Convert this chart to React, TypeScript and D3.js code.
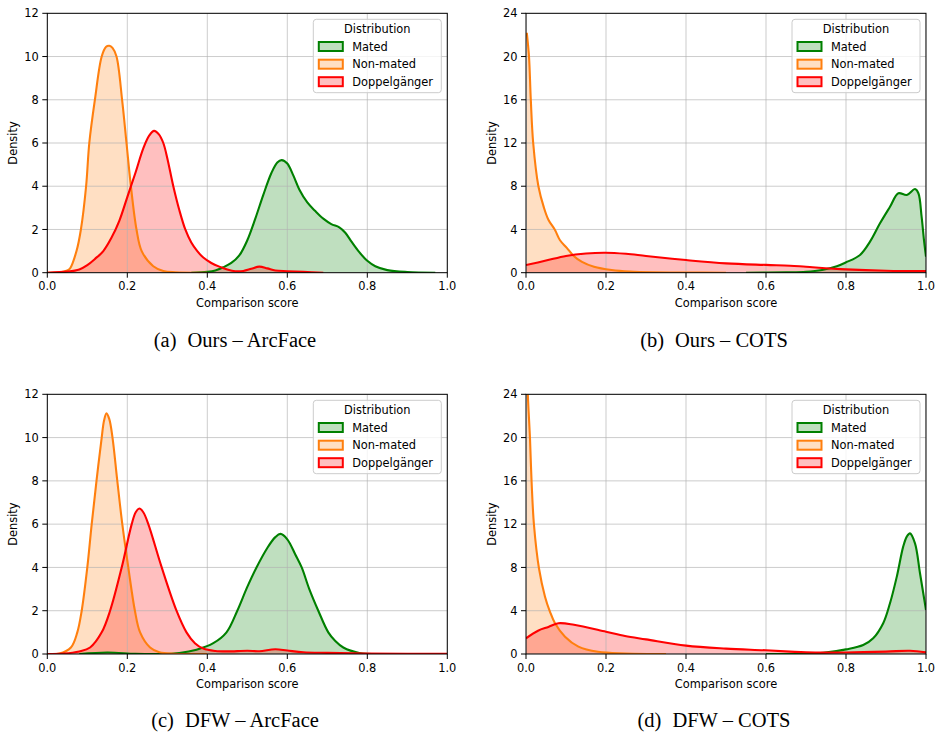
import React from "react";
import * as d3 from "d3";

type Pt = [number, number];

const categories = ["Mated", "Non-mated", "Doppelgänger"];
const colors = ["#008000", "#ff7f0e", "#ff0000"];
const xTicks = [0, 0.2, 0.4, 0.6, 0.8, 1.0];
const yTicksArc = [0, 2, 4, 6, 8, 10, 12];
const yTicksCots = [0, 4, 8, 12, 16, 20, 24];
const captions = ["(a)", "(b)", "(c)", "(d)"];
const captionTexts = ["Ours – ArcFace", "Ours – COTS", "DFW – ArcFace", "DFW – COTS"];

// (a) Ours – ArcFace
const aMated: Pt[] = [[0.36,0],[0.40,0.04],[0.42,0.1],[0.44,0.25],[0.46,0.45],[0.48,0.8],[0.50,1.5],[0.52,2.5],[0.54,3.6],[0.56,4.6],[0.575,5.1],[0.586,5.21],[0.60,5.05],[0.615,4.5],[0.63,3.85],[0.65,3.25],[0.67,2.85],[0.69,2.5],[0.71,2.25],[0.73,2.1],[0.745,1.85],[0.76,1.45],[0.78,0.95],[0.80,0.55],[0.82,0.3],[0.85,0.12],[0.90,0.03],[0.97,0]];
const aNonMated: Pt[] = [[0,0],[0.03,0.01],[0.05,0.1],[0.057,0.2],[0.073,1.0],[0.084,2.0],[0.097,4.0],[0.105,6.0],[0.119,8.0],[0.136,10.0],[0.147,10.45],[0.155,10.5],[0.163,10.4],[0.173,10.0],[0.187,8.0],[0.198,6.0],[0.209,4.0],[0.223,2.0],[0.236,1.0],[0.265,0.3],[0.29,0.08],[0.32,0.02],[0.4,0]];
const aDoppel: Pt[] = [[0,0],[0.05,0.05],[0.08,0.15],[0.10,0.35],[0.12,0.65],[0.14,1.0],[0.16,1.6],[0.18,2.4],[0.20,3.5],[0.22,4.6],[0.24,5.75],[0.255,6.35],[0.267,6.56],[0.279,6.4],[0.29,6.0],[0.30,5.3],[0.315,4.0],[0.33,2.9],[0.345,2.0],[0.36,1.4],[0.375,1.0],[0.39,0.7],[0.41,0.45],[0.43,0.28],[0.45,0.15],[0.47,0.07],[0.49,0.08],[0.51,0.18],[0.53,0.28],[0.55,0.2],[0.57,0.1],[0.6,0.07],[0.64,0.04],[0.69,0]];

// (b) Ours – COTS
const bMated: Pt[] = [[0.55,0],[0.65,0.03],[0.70,0.08],[0.74,0.25],[0.777,0.6],[0.80,0.96],[0.835,1.64],[0.86,2.87],[0.885,4.57],[0.91,6.1],[0.931,7.35],[0.952,7.19],[0.9725,7.74],[0.981,7.35],[0.989,5.18],[0.995,3.0],[1.0,1.48]];
const bNonMated: Pt[] = [[0.002,22.2],[0.0075,20.0],[0.012,16.0],[0.018,12.0],[0.031,8.0],[0.045,6.0],[0.056,4.9],[0.0725,3.95],[0.085,3.0],[0.102,2.3],[0.118,1.6],[0.14,1.0],[0.17,0.55],[0.214,0.25],[0.26,0.1],[0.32,0.03],[0.4,0.01],[0.5,0]];
const bDoppel: Pt[] = [[0,0.71],[0.05,1.12],[0.1,1.55],[0.15,1.78],[0.198,1.85],[0.25,1.75],[0.3,1.55],[0.4,1.17],[0.5,0.86],[0.6,0.72],[0.66,0.65],[0.7,0.55],[0.8,0.31],[0.9,0.18],[1.0,0.15]];

// (c) DFW – ArcFace
const cMated: Pt[] = [[0.08,0],[0.15,0.07],[0.22,0.01],[0.28,0],[0.33,0.05],[0.373,0.2],[0.415,0.5],[0.448,1.0],[0.475,2.0],[0.50,3.1],[0.523,4.0],[0.55,4.9],[0.57,5.4],[0.583,5.55],[0.60,5.3],[0.62,4.6],[0.636,4.0],[0.655,3.0],[0.6775,2.0],[0.7025,1.0],[0.72,0.6],[0.74,0.3],[0.78,0.05],[0.83,0]];
const cNonMated: Pt[] = [[0,0],[0.03,0.02],[0.059,0.3],[0.075,1.0],[0.086,2.0],[0.1,4.0],[0.111,6.0],[0.123,8.0],[0.136,10.0],[0.142,10.8],[0.148,11.12],[0.155,10.85],[0.163,10.0],[0.175,8.0],[0.1875,6.0],[0.2025,4.0],[0.219,2.0],[0.232,1.0],[0.257,0.3],[0.28,0.08],[0.32,0.01],[0.4,0]];
const cDoppel: Pt[] = [[0,0],[0.04,0.02],[0.08,0.12],[0.107,0.3],[0.136,1.0],[0.157,2.0],[0.186,4.0],[0.211,6.0],[0.221,6.55],[0.23,6.72],[0.24,6.55],[0.2525,6.0],[0.286,4.0],[0.323,2.0],[0.348,1.0],[0.369,0.5],[0.39,0.25],[0.42,0.14],[0.45,0.12],[0.5,0.15],[0.53,0.13],[0.57,0.22],[0.6,0.16],[0.64,0.08],[0.7,0.05],[0.8,0.02],[0.9,0.01],[1.0,0.01]];

// (d) DFW – COTS
const dMated: Pt[] = [[0.6,0],[0.7,0.03],[0.743,0.1],[0.8,0.43],[0.843,0.83],[0.868,1.45],[0.893,2.84],[0.91,4.69],[0.927,7.15],[0.943,9.92],[0.952,10.85],[0.96,11.15],[0.9725,10.23],[0.985,7.46],[1.0,4.07]];
const dNonMated: Pt[] = [[0.001,30],[0.004,24.5],[0.01,19.9],[0.014,15.9],[0.02,11.9],[0.0325,7.9],[0.0475,5.3],[0.06,3.9],[0.0725,2.84],[0.0975,1.6],[0.131,0.68],[0.18,0.2],[0.25,0.05],[0.35,0]];
const dDoppel: Pt[] = [[0,1.45],[0.03,2.15],[0.056,2.5],[0.081,2.84],[0.12,2.7],[0.2,2.06],[0.2475,1.66],[0.3,1.35],[0.4,0.77],[0.5,0.5],[0.6,0.34],[0.66,0.22],[0.7,0.15],[0.8,0.14],[0.9,0.22],[0.96,0.3],[1.0,0.15]];

const FONT = "DejaVu Sans, sans-serif";
const FS = 11.4;

interface PanelProps {
  id: string;
  left: number; right: number; top: number; bottom: number;
  yMax: number; yTicks: number[];
  series: Pt[][];
}

function Panel({ id, left, right, top, bottom, yMax, yTicks, series }: PanelProps) {
  const x = d3.scaleLinear().domain([0, 1]).range([left, right]);
  const y = d3.scaleLinear().domain([0, yMax]).range([bottom, top]);
  const curve = d3.curveCatmullRom.alpha(0.5);
  const area = d3.area<Pt>().x(d => x(d[0])).y0(y(0)).y1(d => y(d[1])).curve(curve);
  const line = d3.line<Pt>().x(d => x(d[0])).y(d => y(d[1])).curve(curve);
  const midY = (top + bottom) / 2;
  const lgW = 128, lgH = 73.4;
  const lgX = right - 6 - lgW, lgY = top + 6;
  const rowY = [27.2, 44.9, 62.4];
  return (
    <g>
      <defs>
        <clipPath id={id}>
          <rect x={left} y={top} width={right - left} height={bottom - top} />
        </clipPath>
      </defs>
      <g clipPath={`url(#${id})`}>
        {series.map((s, i) => (
          <path key={"f" + i} d={area(s) || ""} fill={colors[i]} fillOpacity={0.25} stroke="none" />
        ))}
        {xTicks.map(t => (
          <line key={"gx" + t} x1={x(t)} x2={x(t)} y1={top} y2={bottom} stroke="#b0b0b0" strokeOpacity={0.65} strokeWidth={1} />
        ))}
        {yTicks.map(t => (
          <line key={"gy" + t} x1={left} x2={right} y1={y(t)} y2={y(t)} stroke="#b0b0b0" strokeOpacity={0.65} strokeWidth={1} />
        ))}
        {series.map((s, i) => (
          <path key={"l" + i} d={line(s) || ""} fill="none" stroke={colors[i]} strokeWidth={2.1} strokeLinejoin="round" />
        ))}
      </g>
      <rect x={left} y={top} width={right - left} height={bottom - top} fill="none" stroke="#000" strokeWidth={1} />
      {xTicks.map(t => (
        <g key={"tx" + t}>
          <line x1={x(t)} x2={x(t)} y1={bottom} y2={bottom + 5} stroke="#000" strokeWidth={1} />
          <text x={x(t)} y={bottom + 17.5} textAnchor="middle" fontFamily={FONT} fontSize={FS} fill="#000">{t.toFixed(1)}</text>
        </g>
      ))}
      {yTicks.map(t => (
        <g key={"ty" + t}>
          <line x1={left - 5} x2={left} y1={y(t)} y2={y(t)} stroke="#000" strokeWidth={1} />
          <text x={left - 8.5} y={y(t)} dy="0.36em" textAnchor="end" fontFamily={FONT} fontSize={FS} fill="#000">{t}</text>
        </g>
      ))}
      <text x={left - 34.5} y={midY} transform={`rotate(-90 ${left - 34.5} ${midY})`} dy="0.36em" textAnchor="middle" fontFamily={FONT} fontSize={FS} fill="#000">Density</text>
      <text x={(left + right) / 2} y={bottom + 34} textAnchor="middle" fontFamily={FONT} fontSize={FS} fill="#000">Comparison score</text>
      <g>
        <rect x={lgX} y={lgY} width={lgW} height={lgH} rx={3} fill="#fff" fillOpacity={0.8} stroke="#cccccc" strokeWidth={1} />
        <text x={lgX + lgW / 2} y={lgY + 9.8} dy="0.36em" textAnchor="middle" fontFamily={FONT} fontSize={FS} fill="#000">Distribution</text>
        {categories.map((c, i) => (
          <g key={c}>
            <rect x={lgX + 5.5} y={lgY + rowY[i] - 4.5} width={24} height={9} fill={colors[i]} fillOpacity={0.25} stroke={colors[i]} strokeWidth={2} />
            <text x={lgX + 39} y={lgY + rowY[i]} dy="0.36em" fontFamily={FONT} fontSize={FS} fill="#000">{c}</text>
          </g>
        ))}
      </g>
    </g>
  );
}

function Caption({ cx, y, label, text }: { cx: number; y: number; label: string; text: string }) {
  return (
    <text x={cx} y={y} textAnchor="middle" fontFamily="Liberation Serif, Times New Roman, serif" fontSize={20.5} fill="#000">
      <tspan>{label}</tspan>
      <tspan dx={11}>{text}</tspan>
    </text>
  );
}

export default function App() {
  const L1 = 47.3, R1 = 447.3, L2 = 526, R2 = 926;
  const T1 = 13.3, B1 = 272.7, T2 = 394.3, B2 = 654;
  return (
    <svg width={940} height={735} style={{ position: "absolute", left: 0, top: 0, background: "#fff" }}>
      <rect x={0} y={0} width={940} height={735} fill="#fff" />
      <Panel id="pa" left={L1} right={R1} top={T1} bottom={B1} yMax={12} yTicks={yTicksArc} series={[aMated, aNonMated, aDoppel]} />
      <Panel id="pb" left={L2} right={R2} top={T1} bottom={B1} yMax={24} yTicks={yTicksCots} series={[bMated, bNonMated, bDoppel]} />
      <Panel id="pc" left={L1} right={R1} top={T2} bottom={B2} yMax={12} yTicks={yTicksArc} series={[cMated, cNonMated, cDoppel]} />
      <Panel id="pd" left={L2} right={R2} top={T2} bottom={B2} yMax={24} yTicks={yTicksCots} series={[dMated, dNonMated, dDoppel]} />
      <Caption cx={235} y={347} label={captions[0]} text={captionTexts[0]} />
      <Caption cx={714} y={347} label={captions[1]} text={captionTexts[1]} />
      <Caption cx={235} y={727} label={captions[2]} text={captionTexts[2]} />
      <Caption cx={714} y={727} label={captions[3]} text={captionTexts[3]} />
    </svg>
  );
}
